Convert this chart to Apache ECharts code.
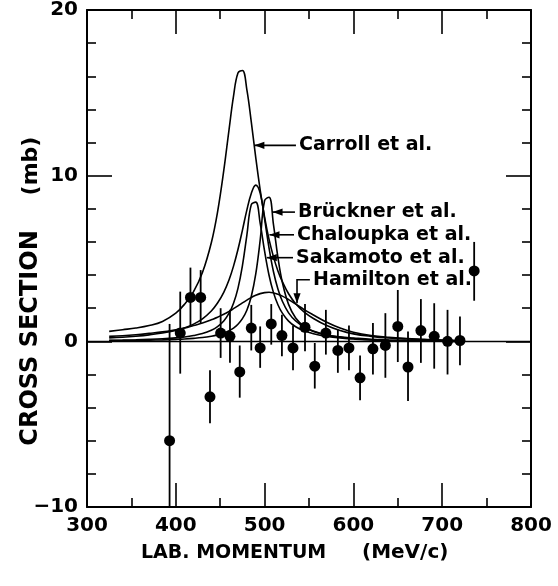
<!DOCTYPE html>
<html><head><meta charset="utf-8">
<script src="https://cdn.jsdelivr.net/npm/echarts@6/dist/echarts.min.js"></script>
<style>html,body{margin:0;padding:0;background:#fff}#c{width:558px;height:586px}</style>
</head><body><div id="c"></div>
<script>
// ---- data ----
const xTickLabels = ['300', '400', '500', '600', '700', '800'];
const yTickLabels = ['−10', '0', '10', '20'];

const curveX    = [325, 340, 355, 370, 385, 400, 410, 420, 430, 440, 447, 454, 460, 465, 470, 475, 480, 485, 490, 495, 500, 505, 510, 515, 520, 527, 535, 545, 555, 570, 585, 600, 620, 640, 660, 680, 700, 720];
const carroll   = [0.6, 0.7, 0.8, 0.95, 1.2, 1.7, 2.25, 3.0, 4.15, 5.95, 7.8, 10.3, 12.8, 14.8, 16.2, 16.35, 15.2, 13.25, 11.1, 9.15, 7.5, 6.15, 5.1, 4.25, 3.6, 2.87, 2.27, 1.75, 1.38, 0.95, 0.65, 0.45, 0.3, 0.2, 0.14, 0.1, 0.06, 0.03];
const hamilton  = [0.3, 0.34, 0.4, 0.48, 0.57, 0.7, 0.8, 0.95, 1.1, 1.3, 1.45, 1.64, 1.8, 1.97, 2.14, 2.32, 2.49, 2.65, 2.78, 2.88, 2.94, 2.96, 2.92, 2.84, 2.73, 2.52, 2.25, 1.9, 1.59, 1.15, 0.8, 0.55, 0.35, 0.24, 0.17, 0.12, 0.07, 0.04];
const chaloupka = [0.21, 0.25, 0.31, 0.39, 0.5, 0.66, 0.82, 1.04, 1.36, 1.83, 2.31, 2.96, 3.72, 4.54, 5.54, 6.7, 7.92, 8.93, 9.43, 8.95, 7.38, 5.63, 4.2, 3.16, 2.42, 1.72, 1.23, 0.85, 0.62, 0.38, 0.27, 0.2, 0.12, 0.08, 0.05, 0.03, 0.01, 0.0];
const sakamoto  = [0.06, 0.075, 0.093, 0.118, 0.154, 0.21, 0.265, 0.35, 0.47, 0.67, 0.89, 1.23, 1.7, 2.3, 3.2, 4.56, 6.4, 8.25, 8.4, 7.13, 5.44, 3.99, 2.94, 2.21, 1.7, 1.22, 0.88, 0.62, 0.46, 0.3, 0.2, 0.14, 0.08, 0.05, 0.03, 0.02, 0.01, 0.0];
const bruckner  = [0.04, 0.047, 0.058, 0.071, 0.09, 0.12, 0.144, 0.18, 0.23, 0.31, 0.39, 0.5, 0.64, 0.8, 1.03, 1.37, 1.88, 2.71, 4.05, 6.09, 8.5, 8.7, 7.04, 5.07, 3.56, 2.23, 1.41, 0.88, 0.59, 0.37, 0.25, 0.17, 0.1, 0.06, 0.04, 0.02, 0.01, 0.0];

const ptX  = [393, 405, 416.5, 428, 438.5, 450.5, 461, 472, 485, 495, 507.5, 519.5, 532, 545.5, 556.5, 569, 582.5, 595, 607.5, 622, 636, 650, 661.5, 676, 691, 706, 720, 736];
const ptY  = [-6.0, 0.5, 2.65, 2.65, -3.35, 0.5, 0.3, -1.85, 0.8, -0.4, 1.05, 0.35, -0.4, 0.85, -1.5, 0.5, -0.55, -0.4, -2.2, -0.45, -0.25, 0.9, -1.55, 0.65, 0.3, 0.0, 0.05, 4.25];
const ptHi = [1.05, 3.0, 4.45, 4.3, -1.75, 2.0, 1.9, -0.25, 2.2, 0.9, 2.25, 1.6, 0.95, 2.25, -0.1, 1.9, 0.7, 0.95, -0.85, 1.1, 1.7, 3.1, 0.6, 2.55, 2.3, 1.9, 1.5, 6.0];
const ptLo = [-10, -1.95, 0.9, 1.1, -4.95, -1.0, -1.3, -3.4, -0.55, -1.6, -0.2, -0.9, -1.75, -0.6, -2.85, -0.8, -1.9, -1.75, -3.55, -2.0, -2.2, -1.25, -3.6, -1.3, -1.65, -2.0, -1.45, 2.45];

const labelNames = ['Carroll et al.', 'Brückner et al.', 'Chaloupka et al.', 'Sakamoto et al.', 'Hamilton et al.'];
const labelAt  = [[538.7, 11.83], [537.6, 7.8], [536.5, 6.43], [535.3, 5.05], [554.5, 3.72]];
const arrowPath = [
  [[535.3, 11.83], [488.5, 11.83]],
  [[534.2, 7.8], [509.0, 7.8]],
  [[533.1, 6.43], [505.5, 6.43]],
  [[532.0, 5.05], [502.5, 5.05]],
  [[551.0, 3.72], [536.5, 3.72], [536.5, 2.3]]
];

// ---- chart ----
const FONT = 'DejaVu Sans';
const chart = echarts.init(document.getElementById('c'), null, {renderer: 'canvas'});
const zip = (xs, ys) => xs.map((x, i) => [x, ys[i]]);

function curve(name, ys) {
  return {
    name, type: 'line', data: zip(curveX, ys), smooth: 0.4, symbol: 'none',
    lineStyle: {color: '#000', width: 1.6}, z: 3, silent: true
  };
}

const xBase = {
  type: 'value', min: 300, max: 800, interval: 100,
  axisLine: {show: true, onZero: false, lineStyle: {color: '#000', width: 2}},
  axisTick: {show: true, inside: true, length: 24, lineStyle: {color: '#000', width: 1.6}},
  minorTick: {show: true, splitNumber: 2, length: 9, lineStyle: {color: '#000', width: 1.6}},
  splitLine: {show: false}
};
const yBase = {
  type: 'value', min: -10, max: 20, interval: 10,
  axisLine: {show: true, onZero: false, lineStyle: {color: '#000', width: 2}},
  axisTick: {show: true, inside: true, length: 25, lineStyle: {color: '#000', width: 1.6}},
  minorTick: {show: true, splitNumber: 5, length: 9, lineStyle: {color: '#000', width: 1.6}},
  splitLine: {show: false}
};

chart.setOption({
  animation: false,
  backgroundColor: '#fff',
  grid: {left: 87, right: 27, top: 8, bottom: 79},
  xAxis: [
    Object.assign({}, xBase, {position: 'bottom',
      axisLabel: {show: true, margin: 9, color: '#000', fontFamily: FONT, fontWeight: 'bold', fontSize: 20,
        formatter: v => xTickLabels[Math.round((v - 300) / 100)]}}),
    Object.assign({}, xBase, {position: 'top', axisLabel: {show: false}})
  ],
  yAxis: [
    Object.assign({}, yBase, {position: 'left',
      axisLabel: {show: true, margin: 9, color: '#000', fontFamily: FONT, fontWeight: 'bold', fontSize: 20,
        formatter: v => yTickLabels[Math.round((v + 10) / 10)]}}),
    Object.assign({}, yBase, {position: 'right', axisLabel: {show: false}})
  ],
  series: [
    curve('Carroll et al.', carroll),
    curve('Brückner et al.', bruckner),
    curve('Chaloupka et al.', chaloupka),
    curve('Sakamoto et al.', sakamoto),
    curve('Hamilton et al.', hamilton),
    {
      name: 'errors', type: 'custom', clip: true, silent: true, z: 4,
      data: ptX.map((x, i) => [x, ptLo[i], ptHi[i]]),
      renderItem: (params, api) => {
        const a = api.coord([api.value(0), api.value(1)]);
        const b = api.coord([api.value(0), api.value(2)]);
        return {type: 'line', shape: {x1: a[0], y1: a[1], x2: b[0], y2: b[1]},
          style: {stroke: '#000', lineWidth: 1.8}};
      }
    },
    {
      name: 'data', type: 'scatter', data: zip(ptX, ptY), symbol: 'circle', symbolSize: 11,
      itemStyle: {color: '#000', opacity: 1}, z: 5, silent: true,
      markLine: {silent: true, symbol: 'none', label: {show: false},
        lineStyle: {color: '#000', width: 1.3, type: 'solid', opacity: 1}, data: [{yAxis: 0}]}
    }
  ]
});

// ---- annotations ----
const toPx = p => chart.convertToPixel({xAxisIndex: 0, yAxisIndex: 0}, p);
const graphics = [];
labelNames.forEach((name, i) => {
  const p = toPx(labelAt[i]);
  graphics.push({type: 'text', x: p[0], y: p[1],
    style: {text: name, fill: '#000', font: 'bold 19px "' + FONT + '"', textAlign: 'left', textVerticalAlign: 'middle'}});
  const pts = arrowPath[i].map(toPx);
  graphics.push({type: 'polyline', shape: {points: pts}, style: {stroke: '#000', lineWidth: 1.6, fill: null}});
  const t = pts[pts.length - 1], s = pts[pts.length - 2];
  const dx = t[0] - s[0], dy = t[1] - s[1], L = Math.hypot(dx, dy);
  const ux = dx / L, uy = dy / L, len = 10, hw = 3.6;
  const bx = t[0] - ux * len, by = t[1] - uy * len;
  graphics.push({type: 'polygon', shape: {points: [t, [bx - uy * hw, by + ux * hw], [bx + uy * hw, by - ux * hw]]},
    style: {fill: '#000'}});
});
// axis titles
graphics.push({type: 'text', x: 141, y: 553,
  style: {text: 'LAB. MOMENTUM', fill: '#000', font: 'bold 19px "' + FONT + '"', textAlign: 'left', textVerticalAlign: 'middle'}});
graphics.push({type: 'text', x: 362, y: 553,
  style: {text: '(MeV/c)', fill: '#000', font: 'bold 20px "' + FONT + '"', textAlign: 'left', textVerticalAlign: 'middle'}});
graphics.push({type: 'text', x: 31, y: 338, rotation: Math.PI / 2,
  style: {text: 'CROSS SECTION', fill: '#000', font: 'bold 24px "' + FONT + '"', textAlign: 'center', textVerticalAlign: 'middle'}});
graphics.push({type: 'text', x: 31, y: 166, rotation: Math.PI / 2,
  style: {text: '(mb)', fill: '#000', font: 'bold 22px "' + FONT + '"', textAlign: 'center', textVerticalAlign: 'middle'}});
chart.setOption({graphic: graphics});
</script>
</body></html>
